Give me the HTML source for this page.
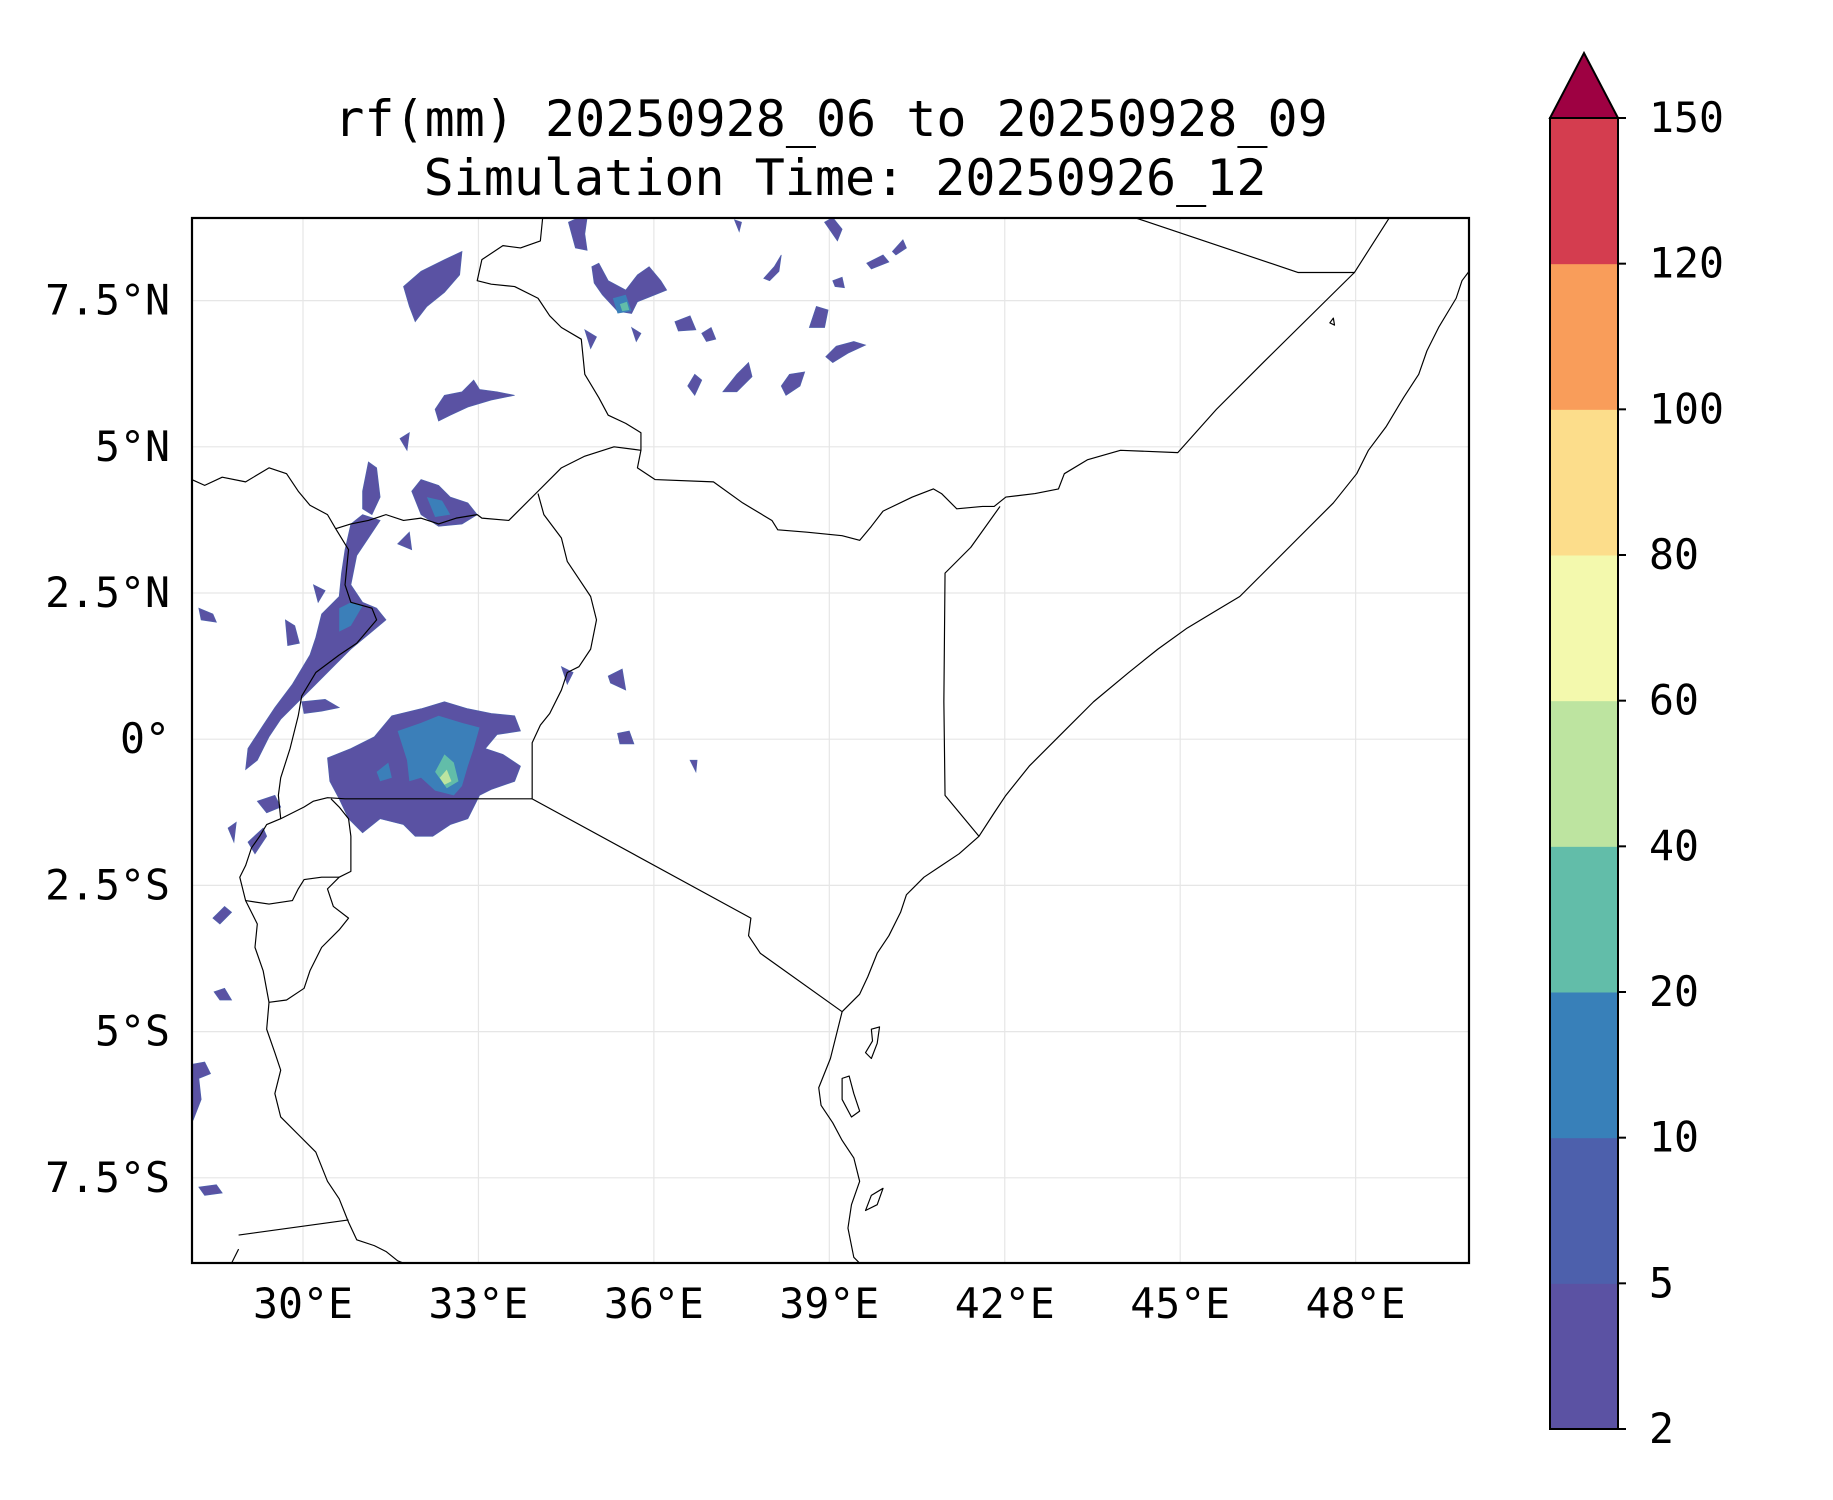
<!DOCTYPE html>
<html><head><meta charset="utf-8"><style>
html,body{margin:0;padding:0;background:#fff;}
svg{display:block;}
text{font-family:"DejaVu Sans Mono","Liberation Mono",monospace;fill:#000;}
</style></head><body>
<svg id="chart" width="1833" height="1500" viewBox="0 0 1833 1500" xmlns="http://www.w3.org/2000/svg">
<rect width="1833" height="1500" fill="#fff"/>
<text x="831" y="136" font-size="50" text-anchor="middle">rf(mm) 20250928_06 to 20250928_09</text>
<text x="845" y="195" font-size="50" text-anchor="middle">Simulation Time: 20250926_12</text>
<g id="grid"></g>
<g transform="scale(1.1696)">
 <clipPath id="clip"><rect x="164" y="186" width="1092" height="894"/></clipPath>
 <g clip-path="url(#clip)">
 <g fill="#5a52a3" stroke="#4d60ac" stroke-width="0.6">
  <path d="M280,648 L300,640 L320,630 L335,612 L360,606 L380,600 L400,606 L420,610 L440,612 L445,625 L425,628 L415,640 L430,645 L445,655 L440,668 L420,675 L410,680 L400,700 L385,705 L370,715 L355,715 L345,705 L325,700 L310,712 L298,700 L290,683 L282,668 Z"/>
  <path d="M300,448 L310,440 L325,445 L315,460 L305,475 L300,500 L310,515 L322,520 L330,530 L318,540 L300,555 L285,570 L270,585 L255,600 L240,615 L230,630 L220,650 L210,658 L212,640 L225,620 L235,605 L250,585 L265,560 L270,545 L275,525 L290,510 L292,490 L295,470 Z"/>
  <path d="M345,245 L360,232 L380,222 L395,215 L393,235 L380,250 L365,262 L355,275 L350,262 Z"/>
  <path d="M372,350 L380,338 L395,335 L405,325 L410,333 L425,335 L440,338 L420,342 L400,348 L385,355 L375,360 Z"/>
  <path d="M352,420 L360,410 L375,415 L385,425 L400,430 L408,440 L395,448 L375,450 L360,440 Z"/>
  <path d="M310,420 L315,395 L322,400 L325,425 L318,440 L310,435 Z"/>
  <path d="M506,228 L512,225 L520,240 L535,248 L545,235 L555,228 L565,240 L570,248 L560,252 L545,258 L540,268 L528,266 L515,252 L508,242 Z"/>
  <path d="M486,190 L495,186 L502,186 L500,200 L502,214 L492,212 Z"/>
  <path d="M618,335 L630,320 L640,310 L643,322 L630,335 Z"/>
  <path d="M668,330 L675,320 L688,318 L684,330 L672,338 Z"/>
  <path d="M706,305 L715,296 L730,292 L740,295 L725,302 L712,310 Z"/>
  <path d="M692,280 L698,262 L708,265 L705,280 Z"/>
  <path d="M588,330 L594,320 L600,325 L594,338 Z"/>
  <path d="M600,285 L608,280 L612,290 L604,292 Z"/>
  <path d="M577,275 L590,270 L595,282 L580,283 Z"/>
  <path d="M653,238 L662,228 L668,218 L666,232 L658,240 Z"/>
  <path d="M741,225 L755,218 L760,224 L745,230 Z"/>
  <path d="M763,215 L772,205 L775,212 L766,218 Z"/>
  <path d="M705,190 L712,186 L720,196 L716,206 Z"/>
  <path d="M712,240 L720,237 L722,246 L714,245 Z"/>
  <path d="M520,578 L532,572 L535,590 L522,584 Z"/>
  <path d="M528,627 L538,625 L542,636 L530,636 Z"/>
  <path d="M480,570 L490,575 L485,585 Z"/>
  <path d="M170,520 L182,525 L185,532 L172,530 Z"/>
  <path d="M244,530 L252,535 L256,550 L246,552 Z"/>
  <path d="M268,500 L278,505 L272,515 Z"/>
  <path d="M258,600 L278,598 L290,605 L275,608 L260,610 Z"/>
  <path d="M220,685 L235,680 L240,690 L228,695 Z"/>
  <path d="M212,720 L225,708 L228,715 L218,730 Z"/>
  <path d="M195,708 L202,703 L200,720 Z"/>
  <path d="M182,785 L192,775 L198,780 L188,790 Z"/>
  <path d="M183,848 L192,845 L198,855 L188,855 Z"/>
  <path d="M164,910 L175,908 L180,918 L170,922 L172,940 L165,958 Z"/>
  <path d="M170,1015 L185,1013 L190,1020 L175,1022 Z"/>
  <path d="M342,375 L350,370 L348,385 Z"/>
  <path d="M340,465 L350,455 L352,470 Z"/>
  <path d="M540,280 L548,285 L544,292 Z"/>
  <path d="M590,650 L596,650 L595,660 Z"/>
  <path d="M500,282 L510,288 L505,298 Z"/>
  <path d="M628,188 L634,190 L632,198 Z"/>
 </g>
 <g fill="#3b7fb9">
  <path d="M340,625 L360,618 L375,612 L395,618 L410,622 L405,640 L400,655 L395,672 L388,680 L372,676 L360,665 L350,668 L348,650 Z"/>
  <path d="M322,660 L332,652 L335,665 L325,668 Z"/>
  <path d="M290,520 L300,515 L310,518 L300,535 L290,540 Z"/>
  <path d="M365,425 L378,428 L385,440 L372,442 Z"/>
  <path d="M524,255 L535,252 L540,266 L528,268 Z"/>
 </g>
 <g fill="#62bda9">
  <path d="M372,660 L380,645 L388,652 L392,668 L382,674 Z"/>
  <path d="M530,260 L536,258 L538,265 L532,266 Z"/>
 </g>
 <g fill="#bde4a0">
  <path d="M376,665 L382,658 L386,668 L380,671 Z"/>
 </g>
 <g fill="none" stroke="#000" stroke-width="1" stroke-linejoin="round">
  <path d="M1256,232 L1250,240 L1245,255 L1230,280 L1220,300 L1213,320 L1200,340 L1185,365 L1170,385 L1160,405 L1140,430 L1110,460 L1080,490 L1060,510 L1040,522 L1015,537 L990,555 L965,575 L935,600 L905,630 L880,655 L860,680 L850,695 L837,715 L820,730 L805,740 L790,750 L775,765 L770,780 L760,800 L750,815 L742,835 L735,850 L720,865 L715,885 L710,905 L700,930 L702,945 L712,960 L720,975 L730,990 L735,1010 L728,1030 L725,1050 L730,1075 L735,1080"/>
  <path d="M970,186 L1110,233 L1158,233 L1188,186"/>
  <path d="M1158,233 L1080,310 L1040,350 L1007,387 L958,385 L930,393 L910,405 L905,418 L885,422 L860,425 L850,433 L840,433 L818,435 L805,422 L798,418 L780,425 L755,437 L745,450 L735,462 L720,458 L690,455 L665,453 L660,445 L635,430 L610,412 L560,410 L545,400 L548,385 L548,370 L535,362 L520,355 L512,340 L500,320 L497,290 L480,280 L470,270 L460,255 L440,245 L420,243 L408,240 L412,222 L430,210 L445,212 L462,206 L464,186"/>
  <path d="M855,433 L830,468 L808,490 L807,600 L808,680 L837,715"/>
  <path d="M548,385 L525,382 L500,390 L480,400 L460,420 L435,445 L412,443 L408,440 L390,443 L375,448 L360,443 L345,445 L330,440 L315,445 L300,448 L287,452"/>
  <path d="M164,410 L175,415 L190,408 L210,412 L230,400 L245,405 L255,420 L265,432 L280,440 L287,452 L298,470 L295,500 L300,515 L318,520 L322,530 L305,550 L290,560 L270,575 L258,595 L255,612 L248,640 L240,665 L238,680 L240,700 L250,695 L260,690 L268,685 L280,682 L295,683 L455,683"/>
  <path d="M460,422 L465,440 L480,460 L485,480 L495,495 L505,510 L510,530 L505,555 L495,570 L485,575 L480,590 L470,610 L462,620 L455,635 L455,683 L642,785 L640,800 L650,815 L720,865"/>
  <path d="M283,683 L290,690 L298,700 L300,715 L300,745 L290,750 L280,760 L285,775 L298,785 L290,795 L275,810 L265,830 L260,845 L245,855 L230,857"/>
  <path d="M240,700 L228,705 L222,715 L215,725 L210,740 L205,750 L210,770 L230,773 L250,770 L255,760 L260,752 L275,750 L290,750"/>
  <path d="M210,770 L220,790 L218,810 L225,830 L230,857 L228,880 L235,900 L240,915 L235,935 L240,955 L255,970 L270,985 L280,1010 L290,1025 L298,1045 L305,1060 L320,1065 L330,1070 L340,1078 L345,1080"/>
  <path d="M204,1056 L298,1043"/>
  <path d="M198,1080 L204,1068"/>
  <path d="M745,880 L752,878 L750,892 L745,905 L740,900 L746,890 Z"/>
  <path d="M745,1022 L755,1016 L750,1030 L740,1035 Z"/>
  <path d="M720,922 L726,920 L730,935 L735,950 L728,955 L720,940 Z"/>
  <path d="M1137,276 L1140,272 L1141,278 Z"/>
 </g>
 </g>
</g>
<rect x="192" y="218" width="1277" height="1045" fill="none" stroke="#000" stroke-width="2.2"/>
<g id="axes"></g>
<g id="cbar"></g>
<script>
const lonTicks=[30,33,36,39,42,45,48];
const lonLabels=["30°E","33°E","36°E","39°E","42°E","45°E","48°E"];
const latTicks=[7.5,5,2.5,0,-2.5,-5,-7.5];
const latLabels=["7.5°N","5°N","2.5°N","0°","2.5°S","5°S","7.5°S"];
const cbLevels=[2,5,10,20,40,60,80,100,120,150];
const cbColors=["#5b52a3","#4d60ac","#3880b9","#62bda9","#bde4a0","#f3f9ad","#fcdd8b","#f99d5a","#d43d4f"];
const extendColor="#9e0142";
const NS="http://www.w3.org/2000/svg";
const X0=192,X1=1469,Y0=218,Y1=1263;
function xOf(lon){return 303+(lon-30)*58.48;}
function yOf(lat){return 739.2-lat*58.48;}
function mk(tag,attrs,parent){const e=document.createElementNS(NS,tag);for(const k in attrs)e.setAttribute(k,attrs[k]);parent.appendChild(e);return e;}
const grid=document.getElementById('grid'),axes=document.getElementById('axes'),cb=document.getElementById('cbar');
lonTicks.forEach((v,i)=>{
 const l=mk('line',{x1:xOf(v),x2:xOf(v),y1:Y0,y2:Y1,stroke:'#e6e6e6','stroke-width':1.2},grid);
 
 
 const t=mk('text',{x:xOf(v),y:1318,'font-size':41.5,'text-anchor':'middle'},axes);
 t.textContent=lonLabels[i];
 
 
});
latTicks.forEach((v,i)=>{
 const l=mk('line',{x1:X0,x2:X1,y1:yOf(v),y2:yOf(v),stroke:'#e6e6e6','stroke-width':1.2},grid);
 
 
 const t=mk('text',{x:170,y:yOf(v)+14,'font-size':41.5,'text-anchor':'end'},axes);
 t.textContent=latLabels[i];
 
 
});
const CX0=1550,CX1=1618,CT=118,CB=1429;
const segH=(CB-CT)/(cbLevels.length-1);
function cbY(i){return CB-i*segH;}
cbColors.forEach((c,i)=>{
 const r=mk('rect',{x:CX0,y:cbY(i+1),width:CX1-CX0,height:segH+0.5,fill:c},cb);
 
 
});
const tri=mk('polygon',{points:`${CX0},${CT} ${CX1},${CT} ${(CX0+CX1)/2},53`,fill:extendColor,stroke:'#000','stroke-width':2},cb);


const fr=mk('rect',{x:CX0,y:CT,width:CX1-CX0,height:CB-CT,fill:'none',stroke:'#000','stroke-width':2},cb);


cbLevels.forEach((v,i)=>{
 mk('line',{x1:CX1,x2:CX1+8,y1:cbY(i),y2:cbY(i),stroke:'#000','stroke-width':2},cb);
 const t=mk('text',{x:1649,y:cbY(i)+14,'font-size':41.5},cb);
 t.textContent=v;
 
 
});
</script>
</svg>
</body></html>
